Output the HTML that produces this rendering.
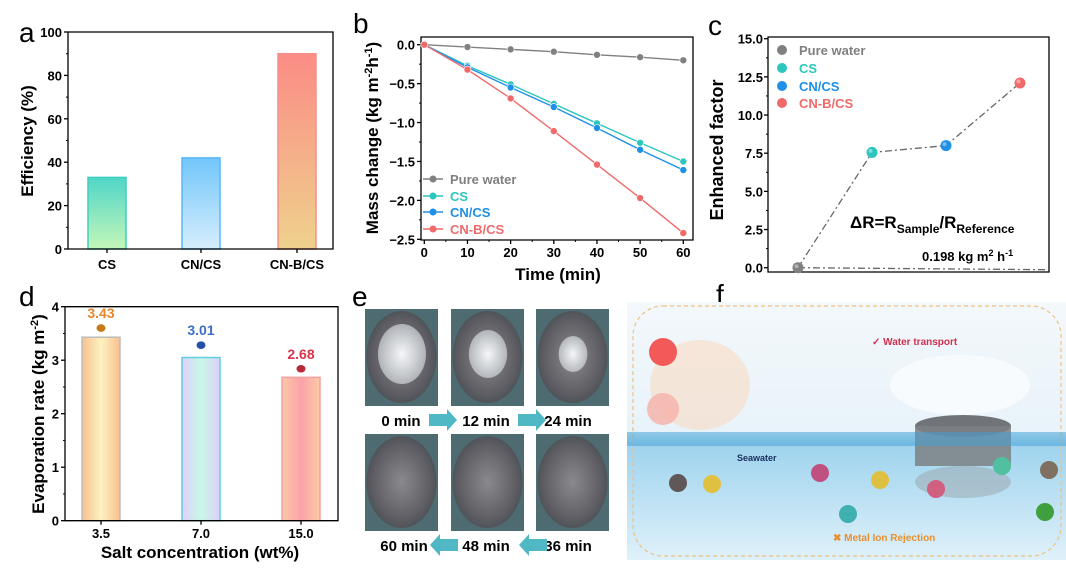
<!DOCTYPE html>
<html><head><meta charset="utf-8"><style>
body{margin:0;background:#fff;width:1066px;height:570px;overflow:hidden;font-family:"Liberation Sans",Arial,sans-serif}
svg text{font-family:"Liberation Sans",Arial,sans-serif}
</style></head><body>
<svg id="fig" width="1066" height="570" viewBox="0 0 1066 570" xmlns="http://www.w3.org/2000/svg">
<defs>
<linearGradient id="gCS" x1="0" y1="0" x2="0" y2="1"><stop offset="0" stop-color="#4fd6c8"/><stop offset="1" stop-color="#c4f7b8"/></linearGradient>
<linearGradient id="gCN" x1="0" y1="0" x2="0" y2="1"><stop offset="0" stop-color="#72c6fb"/><stop offset="1" stop-color="#d6eefc"/></linearGradient>
<linearGradient id="gCNB" x1="0" y1="0" x2="0" y2="1"><stop offset="0" stop-color="#fb8c86"/><stop offset="1" stop-color="#efd18c"/></linearGradient>
<linearGradient id="gD1" x1="0" y1="0" x2="1" y2="0"><stop offset="0" stop-color="#f8c08f"/><stop offset="0.5" stop-color="#fcf2c0"/><stop offset="1" stop-color="#f8c08f"/></linearGradient>
<linearGradient id="gD2" x1="0" y1="0" x2="1" y2="0"><stop offset="0" stop-color="#e1cffa"/><stop offset="0.5" stop-color="#c8f8e6"/><stop offset="1" stop-color="#ddd0fa"/></linearGradient>
<linearGradient id="gD3" x1="0" y1="0" x2="1" y2="0"><stop offset="0" stop-color="#fbcaa6"/><stop offset="0.5" stop-color="#fba2a8"/><stop offset="1" stop-color="#fbcaa6"/></linearGradient>
<radialGradient id="photo" cx="0.5" cy="0.5" r="0.6"><stop offset="0" stop-color="#8a8a8e"/><stop offset="0.7" stop-color="#5c5c62"/><stop offset="1" stop-color="#3e4a4e"/></radialGradient>
<radialGradient id="salt" cx="0.5" cy="0.5" r="0.5"><stop offset="0" stop-color="#f4f6f8"/><stop offset="1" stop-color="#dfe4e8" stop-opacity="0.6"/></radialGradient>
<linearGradient id="fbg" x1="0" y1="0" x2="0" y2="1"><stop offset="0" stop-color="#f3f8fb"/><stop offset="0.5" stop-color="#e8f3fa"/><stop offset="0.55" stop-color="#9ed3ee"/><stop offset="1" stop-color="#dff1fa"/></linearGradient>
</defs>
<g id="pa"></g>
<g id="pb"></g>
<g id="pc"></g>
<g id="pd"></g>
<g id="pe"></g>
<g id="pf"></g>
</svg>
<script>
// Panel a data
const aCats=["CS","CN/CS","CN-B/CS"];
const aVals=[33,42,90];
const aTicks=[0,20,40,60,80,100];
// Panel b data
const bTimes=[0,10,20,30,40,50,60];
const bNames=["Pure water","CS","CN/CS","CN-B/CS"];
const bPure=[0,-0.03,-0.06,-0.09,-0.13,-0.16,-0.2];
const bCS=[0,-0.27,-0.51,-0.76,-1.01,-1.26,-1.50];
const bCN=[0,-0.29,-0.55,-0.80,-1.07,-1.35,-1.61];
const bCNB=[0,-0.32,-0.69,-1.11,-1.54,-1.97,-2.42];
const bYTicks=[0,-0.5,-1.0,-1.5,-2.0,-2.5];
const bXTicks=[0,10,20,30,40,50,60];
// Panel c data
const cNames=["Pure water","CS","CN/CS","CN-B/CS"];
const cVals=[0,7.55,8.0,12.1];
const cTicks=[0,2.5,5,7.5,10,12.5,15];
// Panel d data
const dCats=["3.5","7.0","15.0"];
const dVals=[3.43,3.05,2.68];
const dLabels=["3.43","3.01","2.68"];
const dDots=[3.6,3.28,2.84];
const dTicks=[0,1,2,3,4];

const NS="http://www.w3.org/2000/svg";
function mk(parent,tag,attrs,txt){const e=document.createElementNS(NS,tag);for(const k in attrs)e.setAttribute(k,attrs[k]);if(txt!==undefined)e.textContent=txt;parent.appendChild(e);return e;}
const colors=["#808080","#2cc6bd","#1e90e8","#f06a6a"];

// ===== Panel a =====
(function(){
const g=document.getElementById('pa');
const L=68,R=333,T=32,B=249;
const y=v=>B-(v/100)*(B-T);
const xc=i=>[107,201,297][i];
let t=mk(g,'text',{x:19,y:42,'font-size':28},'a');

const fills=["url(#gCS)","url(#gCN)","url(#gCNB)"],strokes=["#3fcfc0","#5bb8f5","#f5908a"];
aVals.forEach((v,i)=>{const r=mk(g,'rect',{x:xc(i)-19,y:y(v),width:38,height:B-y(v),fill:fills[i],stroke:strokes[i],'stroke-width':1.5});

const l=mk(g,'text',{x:xc(i),y:269,'font-size':13,'font-weight':'bold','text-anchor':'middle'},aCats[i]);
});
mk(g,'path',{d:`M${L},${T}H${R}V${B}H${L}Z`,fill:'none',stroke:'#000','stroke-width':1.3});
aTicks.forEach(v=>{mk(g,'line',{x1:L-4,x2:L,y1:y(v),y2:y(v),stroke:'#000','stroke-width':1.3});
const l=mk(g,'text',{x:L-6,y:y(v)+5,'font-size':13,'font-weight':'bold','text-anchor':'end'},v);

if(v<100)mk(g,'line',{x1:L-2,x2:L,y1:y(v+10),y2:y(v+10),stroke:'#000'});});
[0,1,2].forEach(i=>mk(g,'line',{x1:xc(i),x2:xc(i),y1:B,y2:B+4,stroke:'#000','stroke-width':1.3}));
const yt=mk(g,'text',{x:0,y:0,'font-size':17,'font-weight':'bold','text-anchor':'middle',transform:'translate(33,141) rotate(-90)'},'Efficiency (%)');

})();

// ===== Panel b =====
(function(){
const g=document.getElementById('pb');
const L=421,R=693,T=37,B=240;
const x=v=>424.3+(v/60)*(683.3-424.3);
const y=v=>44.7+(v/-2.5)*(239.3-44.7);
let t=mk(g,'text',{x:353,y:33,'font-size':28},'b');

mk(g,'path',{d:`M${L},${T}H${R}V${B}H${L}Z`,fill:'none',stroke:'#000','stroke-width':1.3});
bYTicks.forEach(v=>{mk(g,'line',{x1:L-4,x2:L,y1:y(v),y2:y(v),stroke:'#000','stroke-width':1.3});
if(v>-2.5)mk(g,'line',{x1:L-2,x2:L,y1:y(v-0.25),y2:y(v-0.25),stroke:'#000'});
const l=mk(g,'text',{x:L-6,y:y(v)+5,'font-size':13,'font-weight':'bold','text-anchor':'end'},v.toFixed(1).replace('-','\u2212'));
});
bXTicks.forEach(v=>{mk(g,'line',{x1:x(v),x2:x(v),y1:B,y2:B+4,stroke:'#000','stroke-width':1.3});
if(v<60)mk(g,'line',{x1:x(v+5),x2:x(v+5),y1:B,y2:B+2,stroke:'#000'});
const l=mk(g,'text',{x:x(v),y:257,'font-size':13,'font-weight':'bold','text-anchor':'middle'},v);
});
const xt=mk(g,'text',{x:558,y:280,'font-size':17,'font-weight':'bold','text-anchor':'middle'},'Time (min)');

const yt=mk(g,'text',{x:0,y:0,'font-size':17,'font-weight':'bold','text-anchor':'middle',transform:'translate(378,138) rotate(-90)'});
yt.innerHTML='Mass change (kg m<tspan dy="-6" font-size="11">-2</tspan><tspan dy="6">h</tspan><tspan dy="-6" font-size="11">-1</tspan><tspan dy="6">)</tspan>';

[bPure,bCS,bCN,bCNB].forEach((s,k)=>{
const p=mk(g,'polyline',{points:s.map((v,i)=>x(bTimes[i])+','+y(v)).join(' '),fill:'none',stroke:colors[k],'stroke-width':1.4});

s.forEach((v,i)=>{const c=mk(g,'circle',{cx:x(bTimes[i]),cy:y(v),r:3.5,fill:colors[k],stroke:'#fff','stroke-width':0.6});
});
const ly=[179,196,212,229][k];
mk(g,'line',{x1:423,x2:443,y1:ly,y2:ly,stroke:colors[k],'stroke-width':1.4});
mk(g,'circle',{cx:433,cy:ly,r:3.5,fill:colors[k]});
const lt=mk(g,'text',{x:450,y:ly+5,'font-size':13,'font-weight':'bold',fill:colors[k]},bNames[k]);
});
})();

// ===== Panel c =====
(function(){
const g=document.getElementById('pc');
const L=768,R=1049,T=37,B=272;
const y=v=>267.7-(v/15)*(267.7-38.7);
const xs=[798,872,946,1020];
let t=mk(g,'text',{x:708,y:35,'font-size':28},'c');

mk(g,'path',{d:`M${L},${T}H${R}V${B}H${L}Z`,fill:'none',stroke:'#000','stroke-width':1.3});
cTicks.forEach(v=>{mk(g,'line',{x1:L-4,x2:L,y1:y(v),y2:y(v),stroke:'#000','stroke-width':1.3});
if(v<15)mk(g,'line',{x1:L-2,x2:L,y1:y(v+1.25),y2:y(v+1.25),stroke:'#000'});
const l=mk(g,'text',{x:L-5,y:y(v)+5,'font-size':13,'font-weight':'bold','text-anchor':'end'},v.toFixed(1));
});
const yt=mk(g,'text',{x:0,y:0,'font-size':18,'font-weight':'bold','text-anchor':'middle',transform:'translate(723,150) rotate(-90)'},'Enhanced factor');

const p=mk(g,'polyline',{points:cVals.map((v,i)=>xs[i]+','+y(v)).join(' '),fill:'none',stroke:'#666','stroke-width':1.3,'stroke-dasharray':'7,3,2,3'});

mk(g,'line',{x1:xs[0],x2:1045,y1:y(cVals[0]),y2:y(cVals[0])+2,stroke:'#666','stroke-width':1.3,'stroke-dasharray':'7,3,2,3'});
cVals.forEach((v,i)=>{const c=mk(g,'circle',{cx:xs[i],cy:y(v),r:5.5,fill:colors[i]});

mk(g,'circle',{cx:xs[i]-1.5,cy:y(v)-1.5,r:2,fill:'#fff','fill-opacity':0.4});
const ly=[50,68,86,103][i];
mk(g,'circle',{cx:782,cy:ly,r:5,fill:colors[i]});
const lt=mk(g,'text',{x:799,y:ly+5,'font-size':13,'font-weight':'bold',fill:colors[i]},cNames[i]);
});
const f=mk(g,'text',{x:850,y:228,'font-size':17,'font-weight':'bold'});
f.innerHTML='ΔR=R<tspan dy="5" font-size="12">Sample</tspan><tspan dy="-5">/R</tspan><tspan dy="5" font-size="12">Reference</tspan>';

const u=mk(g,'text',{x:922,y:261,'font-size':13,'font-weight':'bold'});
u.innerHTML='0.198 kg m<tspan dy="-5" font-size="9">2</tspan><tspan dy="5"> h</tspan><tspan dy="-5" font-size="9">-1</tspan>';

})();

// ===== Panel d =====
(function(){
const g=document.getElementById('pd');
const L=65,R=338,T=306.7,B=520.7;
const y=v=>B-(v/4)*(B-T);
const xc=i=>[101,201,301][i];
let t=mk(g,'text',{x:19,y:306,'font-size':28},'d');

const fills=["url(#gD1)","url(#gD2)","url(#gD3)"],strokes=["#bdbdbd","#5fd0e0","#f5a0a0"],lc=["#e8862a","#3f6fc4","#d8344a"],dc=["#c77a18","#2650a8","#b82a3a"];
dVals.forEach((v,i)=>{const r=mk(g,'rect',{x:xc(i)-19,y:y(v),width:38,height:B-y(v),fill:fills[i],stroke:strokes[i],'stroke-width':1.5});

const c=mk(g,'ellipse',{cx:xc(i),cy:y(dDots[i]),rx:4.5,ry:3.8,fill:dc[i]});

const lab=mk(g,'text',{x:xc(i),y:y(dDots[i])-10,'font-size':14,'font-weight':'bold','text-anchor':'middle',fill:lc[i]},dLabels[i]);

const l=mk(g,'text',{x:xc(i),y:538,'font-size':13,'font-weight':'bold','text-anchor':'middle'},dCats[i]);
});
mk(g,'path',{d:`M${L},${T}H${R}V${B}H${L}Z`,fill:'none',stroke:'#000','stroke-width':1.3});
dTicks.forEach(v=>{mk(g,'line',{x1:L-4,x2:L,y1:y(v),y2:y(v),stroke:'#000','stroke-width':1.3});
if(v<4)mk(g,'line',{x1:L-2,x2:L,y1:y(v+0.5),y2:y(v+0.5),stroke:'#000'});
const l=mk(g,'text',{x:L-6,y:y(v)+5,'font-size':13,'font-weight':'bold','text-anchor':'end'},v);
});
[0,1,2].forEach(i=>mk(g,'line',{x1:xc(i),x2:xc(i),y1:B,y2:B+4,stroke:'#000','stroke-width':1.3}));
const xt=mk(g,'text',{x:200,y:558,'font-size':17,'font-weight':'bold','text-anchor':'middle'},'Salt concentration (wt%)');

const yt=mk(g,'text',{x:0,y:0,'font-size':17,'font-weight':'bold','text-anchor':'middle',transform:'translate(44,414) rotate(-90)'});
yt.innerHTML='Evaporation rate (kg m<tspan dy="-6" font-size="11">-2</tspan><tspan dy="6">)</tspan>';

})();

// ===== Panel e =====
(function(){
const g=document.getElementById('pe');
let t=mk(g,'text',{x:352,y:306,'font-size':28},'e');

const cols=[365,451,536],rows=[309,434];
const labels=[["0 min","12 min","24 min"],["60 min","48 min","36 min"]];
const labX=[[401,486,568],[404,486,568]];
const saltR=[[30,24,18],[0,0,0]];
rows.forEach((ry,r)=>cols.forEach((cx,c)=>{
const ph=mk(g,'rect',{x:cx,y:ry,width:73,height:97,fill:'#4f6b72'});

mk(g,'ellipse',{cx:cx+36.5,cy:ry+48,rx:35,ry:46,fill:'url(#photo)'});
if(saltR[r][c])mk(g,'ellipse',{cx:cx+37,cy:ry+45,rx:saltR[r][c]*0.8,ry:saltR[r][c],fill:'url(#salt)'});
const ly=r?545:420;
const l=mk(g,'text',{x:labX[r][c],y:ly+6,'font-size':15,'font-weight':'bold','text-anchor':'middle'},labels[r][c]);

}));
const arr=(x1,y1,dir)=>{const a=mk(g,'path',{d:dir>0?`M${x1},${y1-6}h18v-5l10,11l-10,11v-5h-18z`:`M${x1+28},${y1-6}h-18v-5l-10,11l10,11v-5h18z`,fill:'#4fb8c4'});
};
arr(429,420,1);arr(518,420,1);arr(430,545,-1);arr(519,545,-1);
const d=mk(g,'path',{d:'M683,406h10v30h5l-10,12l-10,-12h5z',fill:'#4fb8c4'});

})();

// ===== Panel f =====
(function(){
const g=document.getElementById('pf');
let t=mk(g,'text',{x:716,y:304,'font-size':28},'f');

const bg=mk(g,'rect',{x:627,y:302,width:439,height:258,fill:'url(#fbg)'});

mk(g,'rect',{x:633,y:306,width:428,height:250,rx:30,fill:'none',stroke:'#f0c080','stroke-width':1.2,'stroke-dasharray':'4,3'});
mk(g,'ellipse',{cx:700,cy:385,rx:50,ry:45,fill:'#fcd6b8','fill-opacity':0.5});
mk(g,'circle',{cx:663,cy:352,r:14,fill:'#f25a5a'});
mk(g,'circle',{cx:663,cy:409,r:16,fill:'#f6b0a8','fill-opacity':0.8});
mk(g,'ellipse',{cx:960,cy:385,rx:70,ry:30,fill:'#ffffff','fill-opacity':0.6});
mk(g,'ellipse',{cx:963,cy:426,rx:48,ry:11,fill:'#707478'});
mk(g,'rect',{x:915,y:426,width:96,height:40,fill:'#7c8084','fill-opacity':0.85});
mk(g,'ellipse',{cx:963,cy:482,rx:48,ry:16,fill:'#9aa4aa','fill-opacity':0.5});
mk(g,'rect',{x:627,y:432,width:439,height:14,fill:'#3f9fd6','fill-opacity':0.5});
const balls=[[820,473,'#c05080'],[678,483,'#605858'],[712,484,'#e0c040'],[880,480,'#e0c040'],[936,489,'#d06080'],[1002,466,'#50c0a0'],[1049,470,'#807060'],[848,514,'#40b0b0'],[1045,512,'#40a040']];
balls.forEach(b=>mk(g,'circle',{cx:b[0],cy:b[1],r:9,fill:b[2]}));
const w=mk(g,'text',{x:872,y:345,'font-size':10,'font-weight':'bold',fill:'#d03050'},'✓ Water transport');

const s=mk(g,'text',{x:737,y:461,'font-size':9,'font-weight':'bold',fill:'#1a3060'},'Seawater');

const m=mk(g,'text',{x:833,y:541,'font-size':10,'font-weight':'bold',fill:'#e89030'},'✖ Metal Ion Rejection');

})();
</script>
</body></html>
